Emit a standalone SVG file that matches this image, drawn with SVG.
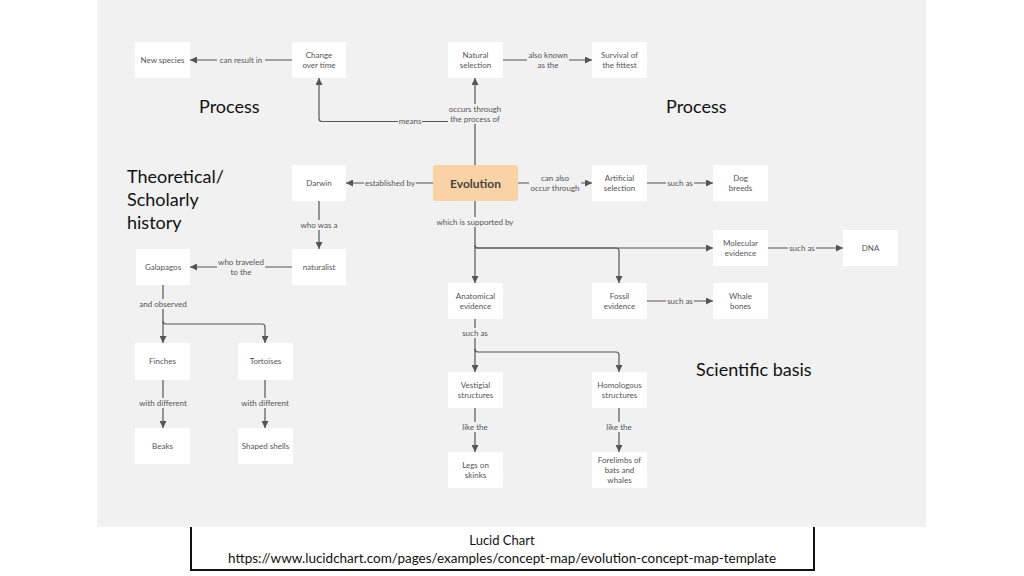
<svg xmlns="http://www.w3.org/2000/svg" width="1024" height="576" viewBox="0 0 1024 576">
<style>
.bg{fill:#f1f1f1}
.node rect{fill:#ffffff}
.nt{font-family:Lato,"Open Sans",sans-serif;font-size:8px;fill:#555;text-anchor:middle}
.lb{fill:#f1f1f1}
.lbl{font-family:Lato,"Open Sans",sans-serif;font-size:8px;fill:#555;text-anchor:middle}
.ln{fill:none;stroke:#555;stroke-width:1.2}
.title{font-family:Lato,"Open Sans",sans-serif;font-size:18px;fill:#111}
.cap{font-family:Lato,"Open Sans",sans-serif;font-size:13px;fill:#111;text-anchor:middle}
</style>
<defs>
<marker id="arr" viewBox="0 0 10 10" refX="10" refY="5" markerWidth="7" markerHeight="7" markerUnits="userSpaceOnUse" orient="auto">
<path d="M0,0 L10,5 L0,10 z" fill="#555"/>
</marker>
</defs>
<rect width="1024" height="576" fill="#ffffff"/>
<rect class="bg" x="97" y="0" width="829" height="527"/>

<g id="connectors">
<path class="ln" d="M292,60 H190" marker-end="url(#arr)"/>
<path class="ln" d="M475,165 V78" marker-end="url(#arr)"/>
<path class="ln" d="M475,121.5 H322 Q319,121.5 319,118.5 V78" marker-end="url(#arr)"/>
<path class="ln" d="M503,60 H592" marker-end="url(#arr)"/>
<path class="ln" d="M433,183 H346" marker-end="url(#arr)"/>
<path class="ln" d="M518,183 H592" marker-end="url(#arr)"/>
<path class="ln" d="M647,183 H713" marker-end="url(#arr)"/>
<path class="ln" d="M319,201 V249" marker-end="url(#arr)"/>
<path class="ln" d="M292,267 H190" marker-end="url(#arr)"/>
<path class="ln" d="M163,285 V343" marker-end="url(#arr)"/>
<path class="ln" d="M163,321 Q163,324 166,324 H262 Q265,324 265,327 V343" marker-end="url(#arr)"/>
<path class="ln" d="M163,380 V428" marker-end="url(#arr)"/>
<path class="ln" d="M265,380 V428" marker-end="url(#arr)"/>
<path class="ln" d="M475,201 V283" marker-end="url(#arr)"/>
<path class="ln" d="M475,245 Q475,248 478,248 H713" marker-end="url(#arr)"/>
<path class="ln" d="M475,248 H616 Q619,248 619,251 V283" marker-end="url(#arr)"/>
<path class="ln" d="M768,248 H843" marker-end="url(#arr)"/>
<path class="ln" d="M647,301 H713" marker-end="url(#arr)"/>
<path class="ln" d="M475,319 V372" marker-end="url(#arr)"/>
<path class="ln" d="M475,349 Q475,352 478,352 H616 Q619,352 619,355 V372" marker-end="url(#arr)"/>
<path class="ln" d="M475,408 V452" marker-end="url(#arr)"/>
<path class="ln" d="M619,408 V452" marker-end="url(#arr)"/>

<rect class="lb" x="217" y="55" width="48" height="10"/>
<text class="lbl" x="241" y="62.8">can result in</text>
<rect class="lb" x="448" y="104" width="54" height="20"/>
<text class="lbl" x="475" y="111.8">occurs through</text>
<text class="lbl" x="475" y="121.8">the process of</text>
<rect class="lb" x="398" y="116.5" width="24" height="10"/>
<text class="lbl" x="410" y="124.3">means</text>
<rect class="lb" x="527" y="50" width="42" height="20"/>
<text class="lbl" x="548" y="57.8">also known</text>
<text class="lbl" x="548" y="67.8">as the</text>
<rect class="lb" x="364" y="178" width="52" height="10"/>
<text class="lbl" x="390" y="185.8">established by</text>
<rect class="lb" x="529" y="173" width="52" height="20"/>
<text class="lbl" x="555" y="180.8">can also</text>
<text class="lbl" x="555" y="190.8">occur through</text>
<rect class="lb" x="666" y="178" width="28" height="10"/>
<text class="lbl" x="680" y="185.8">such as</text>
<rect class="lb" x="300" y="220" width="38" height="10"/>
<text class="lbl" x="319" y="227.8">who was a</text>
<rect class="lb" x="217" y="257" width="48" height="20"/>
<text class="lbl" x="241" y="264.8">who traveled</text>
<text class="lbl" x="241" y="274.8">to the</text>
<rect class="lb" x="138" y="299" width="50" height="10"/>
<text class="lbl" x="163" y="306.8">and observed</text>
<rect class="lb" x="137" y="398" width="52" height="10"/>
<text class="lbl" x="163" y="405.8">with different</text>
<rect class="lb" x="239" y="398" width="52" height="10"/>
<text class="lbl" x="265" y="405.8">with different</text>
<rect class="lb" x="435" y="217" width="80" height="10"/>
<text class="lbl" x="475" y="224.8">which is supported by</text>
<rect class="lb" x="788" y="243" width="28" height="10"/>
<text class="lbl" x="802" y="250.8">such as</text>
<rect class="lb" x="666" y="296" width="28" height="10"/>
<text class="lbl" x="680" y="303.8">such as</text>
<rect class="lb" x="461" y="328" width="28" height="10"/>
<text class="lbl" x="475" y="335.8">such as</text>
<rect class="lb" x="461" y="422" width="28" height="10"/>
<text class="lbl" x="475" y="429.8">like the</text>
<rect class="lb" x="605" y="422" width="28" height="10"/>
<text class="lbl" x="619" y="429.8">like the</text>
</g>

<g id="new-species" class="node"><rect x="135" y="42" width="55" height="36"/><text class="nt" x="162.5" y="62.8">New species</text></g>
<g id="change-over-time" class="node"><rect x="292" y="42" width="54" height="36"/><text class="nt" x="319" y="57.8">Change</text><text class="nt" x="319" y="67.8">over time</text></g>
<g id="natural-selection" class="node"><rect x="448" y="42" width="55" height="36"/><text class="nt" x="475.5" y="57.8">Natural</text><text class="nt" x="475.5" y="67.8">selection</text></g>
<g id="survival" class="node"><rect x="592" y="42" width="55" height="36"/><text class="nt" x="619.5" y="57.8">Survival of</text><text class="nt" x="619.5" y="67.8">the fittest</text></g>
<g id="darwin" class="node"><rect x="292" y="165" width="54" height="36"/><text class="nt" x="319" y="185.8">Darwin</text></g>
<g id="evolution"><rect x="433" y="165" width="85" height="36" rx="3" fill="#f9d3a5"/><text x="475.5" y="187.5" font-family="Lato,'Open Sans',sans-serif" font-size="12" font-weight="bold" fill="#444" text-anchor="middle">Evolution</text></g>
<g id="artificial-selection" class="node"><rect x="592" y="165" width="55" height="36"/><text class="nt" x="619.5" y="180.8">Artificial</text><text class="nt" x="619.5" y="190.8">selection</text></g>
<g id="dog-breeds" class="node"><rect x="713" y="165" width="55" height="36"/><text class="nt" x="740.5" y="180.8">Dog</text><text class="nt" x="740.5" y="190.8">breeds</text></g>
<g id="naturalist" class="node"><rect x="292" y="249" width="54" height="36"/><text class="nt" x="319" y="269.8">naturalist</text></g>
<g id="galapagos" class="node"><rect x="136" y="249" width="54" height="36"/><text class="nt" x="163" y="269.8">Galapagos</text></g>
<g id="molecular-evidence" class="node"><rect x="713" y="230" width="55" height="36"/><text class="nt" x="740.5" y="245.8">Molecular</text><text class="nt" x="740.5" y="255.8">evidence</text></g>
<g id="dna" class="node"><rect x="843" y="230" width="55" height="36"/><text class="nt" x="870.5" y="250.8">DNA</text></g>
<g id="anatomical-evidence" class="node"><rect x="448" y="283" width="55" height="36"/><text class="nt" x="475.5" y="298.8">Anatomical</text><text class="nt" x="475.5" y="308.8">evidence</text></g>
<g id="fossil-evidence" class="node"><rect x="592" y="283" width="55" height="36"/><text class="nt" x="619.5" y="298.8">Fossil</text><text class="nt" x="619.5" y="308.8">evidence</text></g>
<g id="whale-bones" class="node"><rect x="713" y="283" width="55" height="36"/><text class="nt" x="740.5" y="298.8">Whale</text><text class="nt" x="740.5" y="308.8">bones</text></g>
<g id="finches" class="node"><rect x="135" y="343" width="55" height="37"/><text class="nt" x="162.5" y="364.3">Finches</text></g>
<g id="tortoises" class="node"><rect x="238" y="343" width="55" height="37"/><text class="nt" x="265.5" y="364.3">Tortoises</text></g>
<g id="beaks" class="node"><rect x="135" y="428" width="55" height="36"/><text class="nt" x="162.5" y="448.8">Beaks</text></g>
<g id="shaped-shells" class="node"><rect x="238" y="428" width="55" height="36"/><text class="nt" x="265.5" y="448.8">Shaped shells</text></g>
<g id="vestigial-structures" class="node"><rect x="448" y="372" width="55" height="36"/><text class="nt" x="475.5" y="387.8">Vestigial</text><text class="nt" x="475.5" y="397.8">structures</text></g>
<g id="homologous-structures" class="node"><rect x="592" y="372" width="55" height="36"/><text class="nt" x="619.5" y="387.8">Homologous</text><text class="nt" x="619.5" y="397.8">structures</text></g>
<g id="legs-on-skinks" class="node"><rect x="448" y="452" width="55" height="36"/><text class="nt" x="475.5" y="467.8">Legs on</text><text class="nt" x="475.5" y="477.8">skinks</text></g>
<g id="forelimbs" class="node"><rect x="592" y="452" width="55" height="36"/><text class="nt" x="619.5" y="462.8">Forelimbs of</text><text class="nt" x="619.5" y="472.8">bats and</text><text class="nt" x="619.5" y="482.8">whales</text></g>

<g id="section-titles">
<text class="title" x="199" y="112.5">Process</text>
<text class="title" x="666" y="112.5">Process</text>
<text class="title" x="127" y="182.5">Theoretical/</text>
<text class="title" x="127" y="205.5">Scholarly</text>
<text class="title" x="127" y="228.5">history</text>
<text class="title" x="696" y="376">Scientific basis</text>
</g>

<g id="caption">
<path d="M191,527 V570 H814 V527" fill="none" stroke="#111" stroke-width="2"/>
<text class="cap" x="502" y="545">Lucid Chart</text>
<text class="cap" x="502" y="563" textLength="548" lengthAdjust="spacingAndGlyphs">https://www.lucidchart.com/pages/examples/concept-map/evolution-concept-map-template</text>
</g>
</svg>
